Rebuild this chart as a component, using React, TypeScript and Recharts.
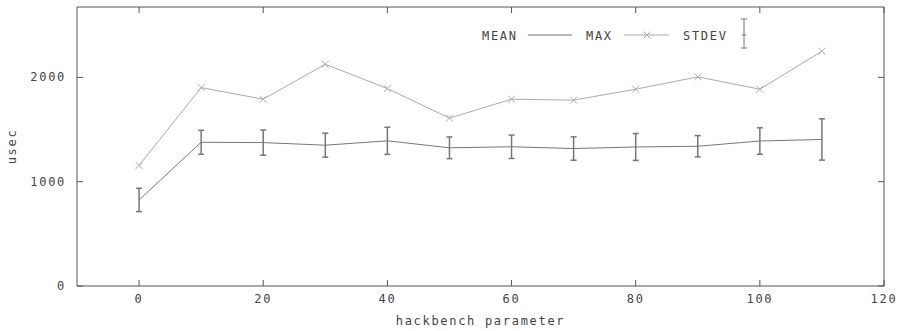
import { LineChart, Line, XAxis, YAxis, ErrorBar } from 'recharts';

const X_VALUES = [0, 10, 20, 30, 40, 50, 60, 70, 80, 90, 100, 110];
const MEAN_VALUES = [825, 1378, 1375, 1350, 1392, 1325, 1335, 1318, 1333, 1340, 1390, 1405];
const STDEV_VALUES = [112, 115, 121, 115, 130, 104, 112, 112, 129, 102, 127, 198];
const MAX_VALUES = [1156, 1902, 1791, 2126, 1893, 1610, 1791, 1782, 1887, 2005, 1887, 2251];
const X_TICKS = [0, 20, 40, 60, 80, 100, 120];
const Y_TICKS = [0, 1000, 2000];

const data = X_VALUES.map((x, i) => ({
  x,
  mean: MEAN_VALUES[i],
  sd: STDEV_VALUES[i],
  max: MAX_VALUES[i],
}));

const FONT = '"DejaVu Sans Mono", monospace';
const TEXT = { fontFamily: FONT, fontSize: 12, letterSpacing: 1.7, fill: '#444' };
const FRAME = '#555';

function BottomTick({ x, y, payload }: any) {
  return (
    <g>
      <line x1={x} x2={x} y1={y} y2={y - 6} stroke={FRAME} />
      <text x={x} y={y + 17} textAnchor="middle" {...TEXT}>
        {payload.value}
      </text>
    </g>
  );
}

function TopTick({ x, y }: any) {
  return <line x1={x} x2={x} y1={y} y2={y + 6} stroke={FRAME} />;
}

function LeftTick({ x, y, payload }: any) {
  return (
    <g>
      <line x1={x} x2={x + 6} y1={y} y2={y} stroke={FRAME} />
      <text x={x - 11} y={y + 4} textAnchor="end" {...TEXT}>
        {payload.value}
      </text>
    </g>
  );
}

function RightTick({ x, y }: any) {
  return <line x1={x} x2={x - 6} y1={y} y2={y} stroke={FRAME} />;
}

function Cross({ cx, cy }: any) {
  if (cx == null || cy == null) return null;
  const s = 3.5;
  return (
    <g stroke="#aaa" strokeWidth={1}>
      <line x1={cx - s} y1={cy - s} x2={cx + s} y2={cy + s} />
      <line x1={cx - s} y1={cy + s} x2={cx + s} y2={cy - s} />
    </g>
  );
}

function YTitle({ viewBox }: any) {
  const cx = viewBox.x + 12;
  const cy = viewBox.y + viewBox.height / 2;
  return (
    <text x={cx} y={cy} transform={`rotate(-90 ${cx} ${cy})`} textAnchor="middle" dominantBaseline="central" {...TEXT}>
      usec
    </text>
  );
}

function LegendBox() {
  return (
    <svg width={300} height={50} style={{ position: 'absolute', left: 470, top: 10 }}>
      <text x={12} y={30} {...TEXT}>MEAN</text>
      <line x1={58} x2={102} y1={25} y2={25} stroke="#777" />
      <text x={116} y={30} {...TEXT}>MAX</text>
      <line x1={154} x2={199} y1={25} y2={25} stroke="#aaa" />
      <Cross cx={177} cy={25} />
      <text x={213} y={30} {...TEXT}>STDEV</text>
      <g stroke="#777">
        <line x1={274} x2={274} y1={9} y2={38} />
        <line x1={271} x2={277} y1={9} y2={9} />
        <line x1={271} x2={277} y1={38} y2={38} />
        <line x1={272} x2={276} y1={25} y2={25} />
      </g>
    </svg>
  );
}

export default function App() {
  return (
    <div style={{ position: 'absolute', left: 0, top: 0, width: 904, height: 331, background: '#fff' }}>
      <LineChart width={904} height={331} data={data} margin={{ top: 6, right: 19, bottom: 0, left: 0 }}>
        <XAxis
          xAxisId="b"
          dataKey="x"
          type="number"
          domain={[-10, 120]}
          ticks={X_TICKS}
          height={45}
          tickSize={0}
          tickMargin={0}
          stroke={FRAME}
          tick={<BottomTick />}
          label={{ value: 'hackbench parameter', position: 'insideBottom', offset: 6, style: TEXT }}
        />
        <XAxis
          xAxisId="t"
          orientation="top"
          dataKey="x"
          type="number"
          domain={[-10, 120]}
          ticks={X_TICKS}
          height={1}
          tickSize={0}
          tickMargin={0}
          stroke={FRAME}
          tick={<TopTick />}
        />
        <YAxis
          yAxisId="l"
          type="number"
          domain={[0, 2675]}
          ticks={Y_TICKS}
          width={77}
          tickSize={0}
          tickMargin={0}
          stroke={FRAME}
          tick={<LeftTick />}
          label={<YTitle />}
        />
        <YAxis
          yAxisId="r"
          orientation="right"
          type="number"
          domain={[0, 2675]}
          ticks={Y_TICKS}
          width={1}
          tickSize={0}
          tickMargin={0}
          stroke={FRAME}
          tick={<RightTick />}
        />
        <Line
          xAxisId="t"
          yAxisId="r"
          dataKey="max"
          stroke="#aaa"
          strokeWidth={1}
          dot={<Cross />}
          activeDot={false}
          isAnimationActive={false}
        />
        <Line
          xAxisId="b"
          yAxisId="l"
          dataKey="mean"
          stroke="#777"
          strokeWidth={1}
          dot={false}
          activeDot={false}
          isAnimationActive={false}
        >
          <ErrorBar dataKey="sd" width={3} stroke="#777" direction="y" isAnimationActive={false} />
        </Line>
      </LineChart>
      <LegendBox />
    </div>
  );
}
